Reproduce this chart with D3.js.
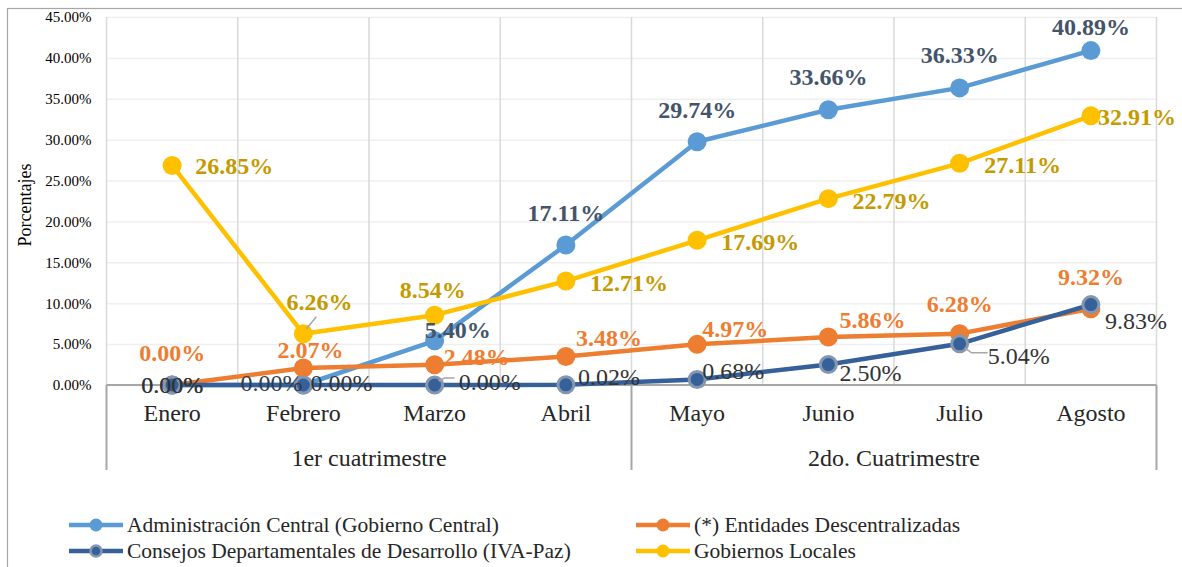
<!DOCTYPE html>
<html>
<head>
<meta charset="utf-8">
<script src="https://cdn.jsdelivr.net/npm/d3@7"></script>
<style>
  body { margin: 0; background: #fff; }
  svg text { font-family: "Liberation Serif", "Times New Roman", serif; }
</style>
</head>
<body>
<svg id="chart"></svg>
<script>
// ---- data ----
const months = ["Enero", "Febrero", "Marzo", "Abril", "Mayo", "Junio", "Julio", "Agosto"];
const groupNames = ["1er cuatrimestre", "2do. Cuatrimestre"];
const groupSpans = [[0, 3], [4, 7]];
const yTicks = [0, 5, 10, 15, 20, 25, 30, 35, 40, 45];

const adminCentral = [0.00, 0.00, 5.40, 17.11, 29.74, 33.66, 36.33, 40.89];
const entidades = [0.00, 2.07, 2.48, 3.48, 4.97, 5.86, 6.28, 9.32];
const consejos = [0.00, 0.00, 0.00, 0.02, 0.68, 2.50, 5.04, 9.83];
const gobiernosLocales = [26.85, 6.26, 8.54, 12.71, 17.69, 22.79, 27.11, 32.91];

const seriesNames = [
  "Administración Central (Gobierno Central)",
  "(*) Entidades Descentralizadas",
  "Consejos Departamentales de Desarrollo (IVA-Paz)",
  "Gobiernos Locales"
];

// ---- layout / styling ----
const W = 1182, H = 567;
const plot = { left: 106.5, right: 1156.5, top: 17, bottom: 385 };

// label placement (offset of label centre from its point)
const labelOffsets = {
  admin: [[0, 0], [-32, -2], [23, -11], [0, -32], [0, -32], [0, -33], [0, -33], [0, -24]],
  entidades: [[0, -32], [7, -18], [42, -8], [43, -19], [38, -15], [44, -17], [0, -30], [0, -32]],
  consejos: [[0, 0], [38, -2], [55, -3], [43, -8], [36, -8], [42, 8], [59, 12], [45, 16]],
  gobiernos: [[62, 1], [16, -32], [-2, -25], [63, 2], [63, 2], [63, 2], [63, 2], [46, 1]]
};
// small leader lines (relative to point)
const leaders = [
  { key: "gobiernos", i: 1, pts: [[3, -5], [13, -17]] },
  { key: "consejos", i: 2, pts: [[4, -4], [10, -7], [20, -7]] },
  { key: "consejos", i: 6, pts: [[5, 4], [12, 9], [28, 9]] }
];

const series = [
  { key: "admin", name: seriesNames[0], values: adminCentral, color: "#5B9BD5",
    fill: "#5B9BD5", stroke: "none", labelColor: "#44546A", bold: true },
  { key: "entidades", name: seriesNames[1], values: entidades, color: "#ED7D31",
    fill: "#ED7D31", stroke: "none", labelColor: "#ED7D31", bold: true },
  { key: "consejos", name: seriesNames[2], values: consejos, color: "#36609A",
    fill: "#36609A", stroke: "#8497B0", labelColor: "#333333", bold: false },
  { key: "gobiernos", name: seriesNames[3], values: gobiernosLocales, color: "#FFC000",
    fill: "#FFC000", stroke: "none", labelColor: "#C49A00", bold: true }
];

const svg = d3.select("#chart").attr("width", W).attr("height", H);

// outer frame
svg.append("rect")
  .attr("x", 7.5).attr("y", 8.5)
  .attr("width", 1200).attr("height", 600)
  .attr("fill", "none").attr("stroke", "#A6A6A6").attr("stroke-width", 1.2);

const x = d3.scaleBand().domain(months).range([plot.left, plot.right]).padding(0);
const xc = m => x(m) + x.bandwidth() / 2;
const y = d3.scaleLinear().domain([0, 45]).range([plot.bottom, plot.top]);

// horizontal gridlines + y labels
const yAxis = svg.append("g")
  .attr("transform", `translate(${plot.left},0)`)
  .call(d3.axisLeft(y).tickValues(yTicks)
    .tickSize(-(plot.right - plot.left))
    .tickFormat(d => d3.format(".2f")(d) + "%"));
yAxis.select(".domain").remove();
yAxis.selectAll(".tick line").attr("stroke", "#EFEFEF").attr("stroke-width", 1.5);
yAxis.selectAll(".tick text")
  .attr("x", -15).attr("fill", "#000")
  .style("font-size", "15px");

// vertical gridlines between months
const vgrid = d3.range(months.length + 1).map(i => plot.left + i * x.bandwidth());
svg.append("g").selectAll("line").data(vgrid).join("line")
  .attr("x1", d => d).attr("x2", d => d)
  .attr("y1", plot.top).attr("y2", plot.bottom)
  .attr("stroke", "#D9D9D9").attr("stroke-width", 1.5);

// category axis (two levels)
const xAxis = svg.append("g")
  .attr("transform", `translate(0,${plot.bottom})`)
  .call(d3.axisBottom(x).tickSize(0).tickPadding(19));
xAxis.select(".domain").remove();
xAxis.selectAll(".tick text").attr("fill", "#262626").style("font-size", "24px");

svg.append("line")
  .attr("x1", plot.left).attr("x2", plot.right)
  .attr("y1", plot.bottom).attr("y2", plot.bottom)
  .attr("stroke", "#A6A6A6").attr("stroke-width", 2);

const groupEdges = [plot.left, x(months[groupSpans[1][0]]), plot.right];
svg.append("g").selectAll("line").data(groupEdges).join("line")
  .attr("x1", d => d).attr("x2", d => d)
  .attr("y1", plot.bottom).attr("y2", 470)
  .attr("stroke", "#A6A6A6").attr("stroke-width", 2);

svg.append("g").selectAll("text").data(groupNames).join("text")
  .attr("x", (d, i) => (x(months[groupSpans[i][0]]) + x(months[groupSpans[i][1]]) + x.bandwidth()) / 2)
  .attr("y", 466)
  .attr("text-anchor", "middle")
  .attr("fill", "#262626")
  .style("font-size", "24px")
  .text(d => d);

// y axis title
svg.append("text")
  .attr("transform", "translate(31,205) rotate(-90)")
  .attr("text-anchor", "middle")
  .attr("fill", "#000")
  .style("font-size", "18px")
  .text("Porcentajes");

// lines + markers
const line = d3.line().x((d, i) => xc(months[i])).y(d => y(d));

series.forEach(s => {
  const g = svg.append("g").attr("class", "series-" + s.key);
  g.append("path")
    .datum(s.values)
    .attr("d", line)
    .attr("fill", "none")
    .attr("stroke", s.color)
    .attr("stroke-width", 4.5)
    .attr("stroke-linejoin", "round");
  g.selectAll("circle").data(s.values).join("circle")
    .attr("cx", (d, i) => xc(months[i]))
    .attr("cy", d => y(d))
    .attr("r", s.stroke === "none" ? 9.5 : 8)
    .attr("fill", s.fill)
    .attr("stroke", s.stroke)
    .attr("stroke-width", s.stroke === "none" ? 0 : 3);
});

// leader lines
leaders.forEach(l => {
  const s = series.find(d => d.key === l.key);
  const px = xc(months[l.i]), py = y(s.values[l.i]);
  svg.append("path")
    .attr("d", d3.line()(l.pts.map(p => [px + p[0], py + p[1]])))
    .attr("fill", "none")
    .attr("stroke", "#A6A6A6")
    .attr("stroke-width", 1.5);
});

// data labels
series.forEach(s => {
  svg.append("g").selectAll("text").data(s.values).join("text")
    .attr("x", (d, i) => xc(months[i]) + labelOffsets[s.key][i][0])
    .attr("y", (d, i) => y(d) + labelOffsets[s.key][i][1])
    .attr("text-anchor", "middle")
    .attr("dominant-baseline", "central")
    .attr("fill", d => (s.key === "admin" && d === 0) ? "#2F3B4C" : s.labelColor)
    .attr("font-weight", d => (s.bold && !(s.key === "admin" && d === 0)) ? "bold" : "normal")
    .style("font-size", "24px")
    .text(d => d3.format(".2f")(d) + "%");
});

// legend
const legendPos = [[69, 525], [636, 525], [69, 551], [636, 551]];
const legend = svg.append("g").selectAll("g").data(series).join("g")
  .attr("transform", (d, i) => `translate(${legendPos[i][0]},${legendPos[i][1]})`);
legend.append("line")
  .attr("x1", 0).attr("x2", 54)
  .attr("stroke", d => d.color).attr("stroke-width", 4.5);
legend.append("circle")
  .attr("cx", 27).attr("r", d => d.stroke === "none" ? 6.5 : 5.5)
  .attr("fill", d => d.fill)
  .attr("stroke", d => d.stroke)
  .attr("stroke-width", d => d.stroke === "none" ? 0 : 2.5);
legend.append("text")
  .attr("x", 58)
  .attr("dominant-baseline", "central")
  .attr("fill", "#262626")
  .style("font-size", "21.5px")
  .text(d => d.name);
</script>
</body>
</html>
